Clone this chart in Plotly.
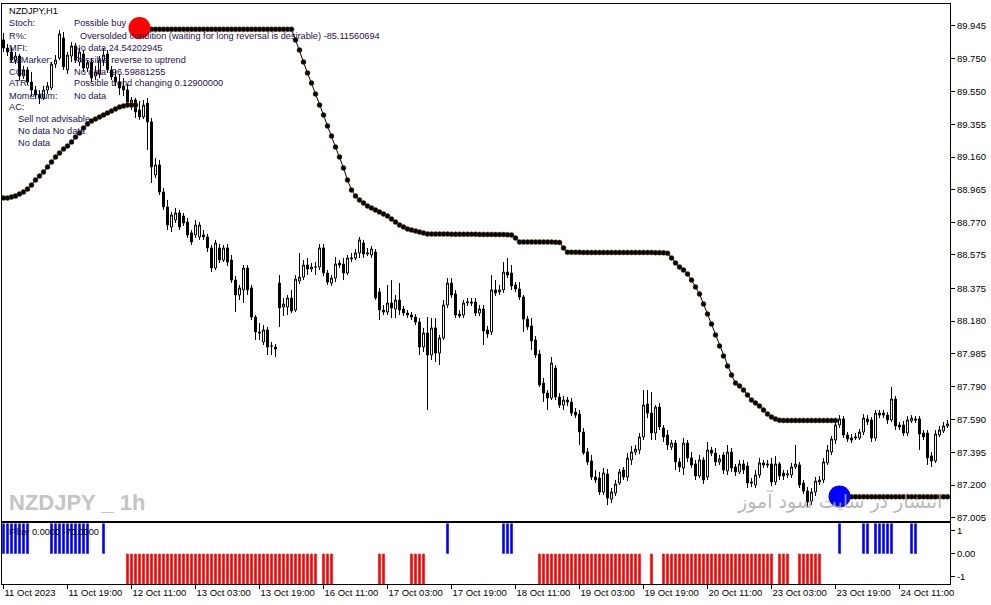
import plotly.graph_objects as go

# ---------------- data ----------------
open_ = [
 89.860, 89.812, 89.788, 89.740, 89.764, 89.645, 89.681, 89.609, 89.561, 89.531,
 89.513, 89.561, 89.573, 89.716, 89.752, 89.872, 89.681, 89.764, 89.824, 89.728,
 89.776, 89.692, 89.728, 89.645, 89.657, 89.740, 89.776, 89.681, 89.639, 89.609,
 89.585, 89.561, 89.477, 89.501, 89.442, 89.400, 89.483, 89.370, 89.053, 89.113,
 88.951, 88.862, 88.742, 88.784, 88.826, 88.808, 88.772, 88.707, 88.695, 88.683,
 88.695, 88.683, 88.617, 88.497, 88.617, 88.545, 88.617, 88.545, 88.425, 88.336,
 88.366, 88.497, 88.378, 88.204, 88.115, 88.055, 88.127, 88.031, 88.025, 88.407,
 88.264, 88.264, 88.318, 88.246, 88.419, 88.443, 88.515, 88.491, 88.503, 88.503,
 88.617, 88.467, 88.407, 88.437, 88.527, 88.521, 88.467, 88.551, 88.557, 88.587,
 88.647, 88.581, 88.575, 88.593, 88.354, 88.246, 88.234, 88.288, 88.252, 88.306,
 88.252, 88.228, 88.216, 88.204, 88.174, 88.025, 88.109, 87.977, 88.139, 87.989,
 88.079, 88.276, 88.407, 88.342, 88.222, 88.216, 88.288, 88.294, 88.294, 88.228,
 88.252, 88.127, 88.115, 88.366, 88.354, 88.366, 88.473, 88.467, 88.396, 88.372,
 88.324, 88.192, 88.151, 88.067, 87.983, 87.810, 87.750, 87.720, 87.899, 87.726,
 87.678, 87.708, 87.696, 87.636, 87.624, 87.517, 87.398, 87.344, 87.248, 87.242,
 87.158, 87.266, 87.116, 87.152, 87.212, 87.290, 87.248, 87.350, 87.397, 87.409,
 87.487, 87.684, 87.630, 87.511, 87.666, 87.541, 87.499, 87.427, 87.451, 87.338,
 87.302, 87.451, 87.362, 87.326, 87.254, 87.350, 87.248, 87.409, 87.391, 87.338,
 87.380, 87.284, 87.397, 87.308, 87.278, 87.326, 87.314, 87.218, 87.200, 87.260,
 87.332, 87.326, 87.326, 87.218, 87.326, 87.272, 87.260, 87.260, 87.308, 87.320,
 87.212, 87.164, 87.104, 87.158, 87.218, 87.230, 87.332, 87.397, 87.469, 87.559,
 87.595, 87.499, 87.481, 87.481, 87.481, 87.517, 87.595, 87.589, 87.481, 87.630,
 87.630, 87.618, 87.589, 87.714, 87.559, 87.559, 87.511, 87.583, 87.595, 87.595,
 87.511, 87.511, 87.374, 87.344, 87.499, 87.523, 87.553]

high = [
 89.902, 89.836, 89.818, 89.788, 89.776, 89.705, 89.699, 89.669, 89.585, 89.561,
 89.585, 89.609, 89.728, 89.770, 89.920, 89.908, 89.788, 89.848, 89.842, 89.812,
 89.800, 89.740, 89.752, 89.705, 89.764, 89.812, 89.800, 89.705, 89.681, 89.657,
 89.633, 89.597, 89.519, 89.513, 89.495, 89.501, 89.513, 89.394, 89.155, 89.143,
 88.975, 88.904, 88.832, 88.856, 88.844, 88.826, 88.796, 88.724, 88.784, 88.772,
 88.724, 88.701, 88.635, 88.665, 88.641, 88.635, 88.641, 88.575, 88.449, 88.396,
 88.515, 88.515, 88.396, 88.216, 88.168, 88.156, 88.145, 88.055, 88.043, 88.455,
 88.318, 88.336, 88.366, 88.455, 88.587, 88.545, 88.557, 88.527, 88.533, 88.641,
 88.641, 88.485, 88.455, 88.563, 88.545, 88.557, 88.575, 88.587, 88.611, 88.683,
 88.665, 88.617, 88.629, 88.611, 88.378, 88.276, 88.396, 88.425, 88.336, 88.407,
 88.270, 88.246, 88.234, 88.222, 88.198, 88.139, 88.204, 88.198, 88.198, 88.097,
 88.306, 88.437, 88.437, 88.366, 88.246, 88.306, 88.318, 88.318, 88.318, 88.276,
 88.276, 88.151, 88.455, 88.425, 88.396, 88.533, 88.557, 88.515, 88.413, 88.413,
 88.336, 88.210, 88.198, 88.091, 88.007, 87.840, 87.768, 87.965, 87.917, 87.750,
 87.732, 87.726, 87.720, 87.660, 87.648, 87.541, 87.421, 87.380, 87.290, 87.278,
 87.302, 87.296, 87.182, 87.230, 87.296, 87.308, 87.391, 87.433, 87.439, 87.511,
 87.768, 87.768, 87.756, 87.678, 87.690, 87.559, 87.529, 87.469, 87.469, 87.362,
 87.481, 87.469, 87.397, 87.350, 87.380, 87.368, 87.457, 87.427, 87.421, 87.380,
 87.397, 87.439, 87.421, 87.326, 87.350, 87.350, 87.338, 87.242, 87.290, 87.362,
 87.350, 87.350, 87.362, 87.373, 87.338, 87.290, 87.290, 87.332, 87.439, 87.338,
 87.230, 87.188, 87.182, 87.248, 87.254, 87.362, 87.439, 87.493, 87.589, 87.618,
 87.612, 87.517, 87.505, 87.511, 87.535, 87.624, 87.618, 87.606, 87.648, 87.648,
 87.648, 87.636, 87.786, 87.732, 87.577, 87.583, 87.612, 87.618, 87.612, 87.612,
 87.529, 87.529, 87.397, 87.529, 87.553, 87.577, 87.589]

low = [
 89.788, 89.764, 89.728, 89.716, 89.621, 89.627, 89.591, 89.525, 89.507, 89.477,
 89.501, 89.537, 89.561, 89.692, 89.740, 89.681, 89.657, 89.728, 89.722, 89.705,
 89.669, 89.669, 89.609, 89.621, 89.633, 89.705, 89.663, 89.621, 89.585, 89.531,
 89.525, 89.454, 89.442, 89.394, 89.382, 89.388, 89.202, 89.005, 89.035, 88.933,
 88.844, 88.724, 88.712, 88.766, 88.724, 88.748, 88.677, 88.635, 88.677, 88.665,
 88.665, 88.593, 88.473, 88.485, 88.527, 88.533, 88.509, 88.407, 88.234, 88.306,
 88.288, 88.336, 88.186, 88.067, 88.067, 88.037, 87.977, 87.977, 87.965, 88.145,
 88.210, 88.216, 88.228, 88.234, 88.401, 88.425, 88.455, 88.473, 88.455, 88.485,
 88.449, 88.396, 88.390, 88.413, 88.497, 88.425, 88.455, 88.533, 88.545, 88.557,
 88.557, 88.569, 88.557, 88.306, 88.186, 88.216, 88.216, 88.198, 88.198, 88.216,
 88.210, 88.198, 88.186, 88.156, 87.977, 87.995, 87.648, 87.947, 87.935, 87.917,
 88.067, 88.258, 88.318, 88.198, 88.198, 88.198, 88.270, 88.270, 88.210, 88.210,
 88.037, 88.079, 88.097, 88.330, 88.336, 88.348, 88.437, 88.366, 88.354, 88.306,
 88.115, 88.127, 88.007, 87.959, 87.786, 87.696, 87.648, 87.708, 87.708, 87.660,
 87.648, 87.672, 87.612, 87.600, 87.439, 87.380, 87.320, 87.230, 87.212, 87.140,
 87.140, 87.080, 87.092, 87.134, 87.200, 87.230, 87.224, 87.320, 87.379, 87.385,
 87.469, 87.600, 87.469, 87.469, 87.529, 87.457, 87.409, 87.409, 87.290, 87.278,
 87.260, 87.338, 87.302, 87.230, 87.242, 87.206, 87.230, 87.373, 87.314, 87.320,
 87.266, 87.260, 87.278, 87.254, 87.266, 87.266, 87.182, 87.188, 87.182, 87.242,
 87.302, 87.302, 87.194, 87.200, 87.230, 87.230, 87.242, 87.242, 87.296, 87.182,
 87.146, 87.063, 87.080, 87.134, 87.200, 87.212, 87.320, 87.379, 87.445, 87.541,
 87.481, 87.457, 87.451, 87.469, 87.469, 87.499, 87.559, 87.457, 87.463, 87.600,
 87.600, 87.565, 87.577, 87.529, 87.529, 87.493, 87.493, 87.571, 87.571, 87.409,
 87.469, 87.320, 87.308, 87.332, 87.487, 87.511, 87.541]

close = [
 89.812, 89.788, 89.740, 89.764, 89.645, 89.681, 89.609, 89.561, 89.531, 89.513,
 89.561, 89.585, 89.716, 89.740, 89.896, 89.699, 89.770, 89.824, 89.740, 89.788,
 89.692, 89.722, 89.633, 89.669, 89.740, 89.770, 89.681, 89.639, 89.609, 89.573,
 89.561, 89.489, 89.501, 89.430, 89.400, 89.471, 89.370, 89.101, 89.113, 88.951,
 88.862, 88.754, 88.814, 88.826, 88.742, 88.766, 88.695, 88.653, 88.754, 88.754,
 88.683, 88.617, 88.497, 88.647, 88.545, 88.617, 88.533, 88.425, 88.336, 88.378,
 88.497, 88.366, 88.204, 88.115, 88.109, 88.127, 88.025, 88.031, 88.013, 88.258,
 88.282, 88.318, 88.240, 88.431, 88.443, 88.515, 88.491, 88.503, 88.503, 88.617,
 88.467, 88.413, 88.437, 88.521, 88.515, 88.467, 88.557, 88.557, 88.587, 88.665,
 88.581, 88.587, 88.611, 88.318, 88.246, 88.234, 88.288, 88.258, 88.306, 88.246,
 88.228, 88.216, 88.204, 88.174, 88.025, 88.109, 87.977, 88.139, 87.989, 88.079,
 88.276, 88.407, 88.336, 88.216, 88.210, 88.288, 88.294, 88.288, 88.228, 88.252,
 88.121, 88.103, 88.366, 88.348, 88.366, 88.473, 88.455, 88.390, 88.372, 88.324,
 88.192, 88.145, 88.061, 87.977, 87.798, 87.750, 87.720, 87.929, 87.726, 87.678,
 87.708, 87.696, 87.630, 87.618, 87.517, 87.392, 87.338, 87.248, 87.230, 87.158,
 87.272, 87.122, 87.158, 87.206, 87.278, 87.248, 87.361, 87.397, 87.415, 87.487,
 87.678, 87.630, 87.511, 87.666, 87.547, 87.487, 87.439, 87.451, 87.338, 87.308,
 87.451, 87.362, 87.320, 87.254, 87.350, 87.230, 87.409, 87.391, 87.338, 87.356,
 87.290, 87.397, 87.302, 87.278, 87.326, 87.290, 87.212, 87.212, 87.260, 87.332,
 87.320, 87.320, 87.218, 87.326, 87.254, 87.254, 87.266, 87.308, 87.326, 87.200,
 87.164, 87.099, 87.158, 87.224, 87.230, 87.338, 87.409, 87.475, 87.559, 87.595,
 87.499, 87.475, 87.469, 87.487, 87.517, 87.600, 87.577, 87.481, 87.630, 87.618,
 87.618, 87.589, 87.714, 87.553, 87.547, 87.511, 87.589, 87.600, 87.589, 87.505,
 87.487, 87.362, 87.344, 87.505, 87.529, 87.553, 87.565]

# trailing line, three segments (bar index ranges)
trail_a_start = 0
trail_a = [88.916, 88.916, 88.922, 88.928, 88.940, 88.951, 88.969, 88.993, 89.023, 89.047,
           89.071, 89.101, 89.131, 89.161, 89.184, 89.208, 89.226, 89.250, 89.280, 89.304,
           89.334, 89.358, 89.376, 89.388, 89.400, 89.412, 89.424, 89.436, 89.448, 89.459,
           89.465, 89.471, 89.471, 89.471]
trail_b_start = 34
trail_b = [89.924, 89.924, 89.924, 89.924, 89.924, 89.924, 89.924, 89.924, 89.924, 89.924,
           89.924, 89.924, 89.924, 89.924, 89.924, 89.924, 89.924, 89.924, 89.924, 89.924,
           89.924, 89.924, 89.924, 89.924, 89.924, 89.924, 89.924, 89.924, 89.924, 89.924,
           89.924, 89.924, 89.924, 89.924, 89.924, 89.924, 89.924, 89.924, 89.924,
           89.860, 89.800, 89.728, 89.663, 89.603, 89.537, 89.471, 89.412, 89.346, 89.286,
           89.220, 89.161, 89.095, 89.023, 88.963, 88.928, 88.904, 88.886, 88.868, 88.856,
           88.844, 88.832, 88.820, 88.808, 88.790, 88.772, 88.754, 88.742, 88.730, 88.724,
           88.718, 88.712, 88.706,
           88.701, 88.700, 88.700, 88.700, 88.700, 88.700, 88.699, 88.699, 88.699, 88.699,
           88.699, 88.699, 88.699, 88.698, 88.698, 88.698, 88.698, 88.697, 88.697, 88.697,
           88.696, 88.694,
           88.676,
           88.653, 88.653, 88.653, 88.653, 88.653, 88.653, 88.653, 88.652, 88.652, 88.651, 88.650,
           88.617,
           88.592, 88.591, 88.591, 88.591, 88.590, 88.590, 88.590, 88.590, 88.590, 88.590,
           88.590, 88.590, 88.590, 88.590, 88.590, 88.590, 88.590, 88.590, 88.590, 88.590,
           88.590, 88.590, 88.589, 88.589, 88.588, 88.585,
           88.557, 88.527, 88.503, 88.485, 88.461, 88.425, 88.384, 88.342, 88.282, 88.222,
           88.162, 88.097, 88.031, 87.971, 87.911, 87.858, 87.810, 87.792, 87.768, 87.738,
           87.708, 87.690, 87.672, 87.648, 87.624, 87.606, 87.595,
           87.587, 87.586, 87.586, 87.586, 87.586, 87.586, 87.586, 87.586, 87.586, 87.586,
           87.586, 87.586, 87.586, 87.586, 87.586]
trail_c_start = 209
trail_c = [87.132, 87.131, 87.130, 87.130, 87.130, 87.130, 87.130, 87.130, 87.130, 87.130,
           87.130, 87.130, 87.130, 87.130, 87.130, 87.130, 87.130, 87.130, 87.130, 87.130,
           87.130, 87.130, 87.130, 87.130, 87.130, 87.130, 87.130, 87.130]

signal_red_bar = 34
signal_red_price = 89.932
signal_blue_bar = 209
signal_blue_price = 87.132

filter_up_bars = [0, 1, 2, 3, 4, 5, 6, 12, 13, 14, 15, 16, 17, 18, 19, 20, 21, 25, 111,
                  125, 126, 127, 209, 215, 216, 218, 219, 220, 221, 222, 227, 228]
filter_down_bars = [31, 32, 33, 34, 35, 36, 37, 38, 39, 40, 41, 42, 43, 44, 45, 46, 47, 48,
                    49, 50, 51, 52, 53, 54, 55, 56, 57, 58, 59, 60, 61, 62, 63, 64, 65, 66,
                    67, 68, 69, 70, 71, 72, 73, 74, 75, 76, 77, 78, 80, 81, 82, 94, 95,
                    102, 103, 104, 105, 134, 135, 136, 137, 138, 139, 140, 141, 142, 143,
                    144, 145, 146, 147, 148, 149, 150, 151, 152, 153, 154, 155, 156, 157,
                    158, 159, 162, 165, 166, 167, 168, 169, 170, 171, 172, 173, 174, 175,
                    176, 177, 178, 179, 180, 181, 182, 183, 184, 185, 186, 187, 188, 189,
                    190, 191, 192, 194, 195, 196, 199, 200, 201, 202, 203, 204]
FILTER_UP = 1
FILTER_DOWN = -1

x_tick_bars = [0, 16, 32, 48, 64, 80, 96, 112, 128, 144, 160, 176, 192, 208, 224]
x_tick_labels = ["11 Oct 2023", "11 Oct 19:00", "12 Oct 11:00", "13 Oct 03:00", "13 Oct 19:00",
                 "16 Oct 11:00", "17 Oct 03:00", "17 Oct 19:00", "18 Oct 11:00", "19 Oct 03:00",
                 "19 Oct 19:00", "20 Oct 11:00", "23 Oct 03:00", "23 Oct 19:00", "24 Oct 11:00"]
price_ticks = [89.945, 89.750, 89.550, 89.355, 89.160, 88.965, 88.770, 88.575, 88.375,
               88.180, 87.985, 87.790, 87.590, 87.395, 87.200, 87.005]
price_tick_labels = ["%.3f" % v for v in price_ticks]

info_labels = ["Stoch:", "R%:", "MFI:", "DeMarker:", "CCI:", "ATR:", "Momentum:", "AC:"]
info_values = ["Possible buy",
               "Oversolded condition (waiting for long reversal is desirable) -85.11560694",
               "No data 24.54202945", "Possible reverse to uptrend", "No data -96.59881255",
               "Possible trend changing 0.12900000", "No data", ""]
info_extra = ["Sell not advisable", "No data No data", "No data"]

# ---------------- figure ----------------
W, H = 991, 605
ML, MR, MT, MB = 2, 41, 4, 21
PW, PH = W - ML - MR, H - MT - MB


def px(xp):
    return (xp - ML) / PW


def py(yp):
    return (H - MB - yp) / PH


bars = list(range(len(close)))
fig = go.Figure()

fig.add_trace(go.Candlestick(
    x=bars, open=open_, high=high, low=low, close=close,
    increasing=dict(line=dict(color="black", width=1), fillcolor="white"),
    decreasing=dict(line=dict(color="black", width=1), fillcolor="black"),
    whiskerwidth=0, hoverinfo="skip", showlegend=False, xaxis="x", yaxis="y"))

for start, seg in [(trail_a_start, trail_a), (trail_b_start, trail_b), (trail_c_start, trail_c)]:
    fig.add_trace(go.Scatter(
        x=list(range(start, start + len(seg))), y=seg, mode="lines+markers",
        line=dict(color="black", width=1),
        marker=dict(size=5, color="#000000", line=dict(color="#6b4010", width=0.5)),
        hoverinfo="skip", showlegend=False, xaxis="x", yaxis="y"))

fig.add_trace(go.Scatter(x=[signal_red_bar], y=[signal_red_price], mode="markers",
                         marker=dict(size=22, color="#ff0000"), hoverinfo="skip",
                         showlegend=False, xaxis="x", yaxis="y"))
fig.add_trace(go.Scatter(x=[signal_blue_bar], y=[signal_blue_price], mode="markers",
                         marker=dict(size=22, color="#0000ff"), hoverinfo="skip",
                         showlegend=False, xaxis="x", yaxis="y"))

fig.add_trace(go.Bar(x=filter_up_bars, y=[FILTER_UP] * len(filter_up_bars), width=0.65,
                     marker=dict(color="#0000ff", line=dict(width=0)), hoverinfo="skip",
                     showlegend=False, xaxis="x2", yaxis="y2"))
fig.add_trace(go.Bar(x=filter_down_bars, y=[FILTER_DOWN] * len(filter_down_bars), width=0.65,
                     marker=dict(color="#ff0000", line=dict(width=0)), hoverinfo="skip",
                     showlegend=False, xaxis="x2", yaxis="y2"))

axis_font = dict(family="Liberation Sans, Arial, sans-serif", size=9.5, color="black")
xr = [-0.375, 236.625]
main_bottom = py(520.5)
ind_top = py(523.3)

fig.update_layout(
    width=W, height=H, margin=dict(l=ML, r=MR, t=MT, b=MB, autoexpand=False),
    paper_bgcolor="white", plot_bgcolor="white", showlegend=False, barmode="overlay",
    xaxis=dict(domain=[0, 1], anchor="y", range=xr, showticklabels=False, ticks="",
               showgrid=False, zeroline=False, showline=True, mirror=True,
               linecolor="black", linewidth=1, rangeslider=dict(visible=False)),
    yaxis=dict(domain=[main_bottom, 1], anchor="x", side="right",
               range=[86.988, 90.075], tickvals=price_ticks, ticktext=price_tick_labels,
               ticks="outside", ticklen=4, tickcolor="black", tickfont=axis_font,
               showgrid=False, zeroline=False, showline=True, mirror=True,
               linecolor="black", linewidth=1),
    xaxis2=dict(domain=[0, 1], anchor="y2", matches="x", range=xr,
                tickvals=x_tick_bars, ticktext=x_tick_labels, ticks="outside", ticklen=4,
                tickcolor="black", tickfont=axis_font, ticklabelposition="outside right",
                showgrid=False, zeroline=False, showline=True, mirror=True,
                linecolor="black", linewidth=1),
    yaxis2=dict(domain=[0, ind_top], anchor="x2", side="right", range=[-1, 1],
                tickvals=[0.76, 0, -0.76], ticktext=["1", "0.00", "-1"],
                ticks="outside", ticklen=4, tickcolor="black", tickfont=axis_font,
                showgrid=False, zeroline=False, showline=True, mirror=True,
                linecolor="black", linewidth=1),
)

text_font = dict(family="Liberation Sans, Arial, sans-serif", size=9.2)
ann = []
ann.append(dict(x=px(7), y=py(10.7), text="NZDJPY,H1",
                font=dict(text_font, color="black")))
rows_y = [23.5, 35.7, 47.7, 60, 71.7, 83.3, 95.7, 107.3]
value_x = [72.3, 77.7, 72.3, 72.3, 72.3, 72.3, 72.3, 72.3]
for lab, val, yy, vx in zip(info_labels, info_values, rows_y, value_x):
    ann.append(dict(x=px(7), y=py(yy), text=lab, font=dict(text_font, color="#14145a")))
    if val:
        ann.append(dict(x=px(vx), y=py(yy), text=val, font=dict(text_font, color="#2a0f4a")))
for val, yy in zip(info_extra, [119, 131, 143]):
    ann.append(dict(x=px(16), y=py(yy), text=val, font=dict(text_font, color="#14145a")))

ann.append(dict(x=px(7), y=py(502), text="<b>NZDJPY _ 1h</b>",
                font=dict(family="Liberation Sans, Arial, sans-serif",
                          size=22, color="#c4c4c4")))
ann.append(dict(x=px(735), y=py(501), text="انتشار در سایت سود آموز",
                font=dict(family="DejaVu Sans", size=19, color="rgba(170,170,170,0.85)")))
ann.append(dict(x=px(7), y=py(532.3), text="Filter 0.0000 -70.0000",
                font=dict(text_font, color="black")))

for a in ann:
    a.update(xref="paper", yref="paper", xanchor="left", yanchor="middle",
             showarrow=False)
fig.update_layout(annotations=ann)

fig.write_html("out.html", config={"displayModeBar": False},
               post_script="document.body.style.margin='0px';")
